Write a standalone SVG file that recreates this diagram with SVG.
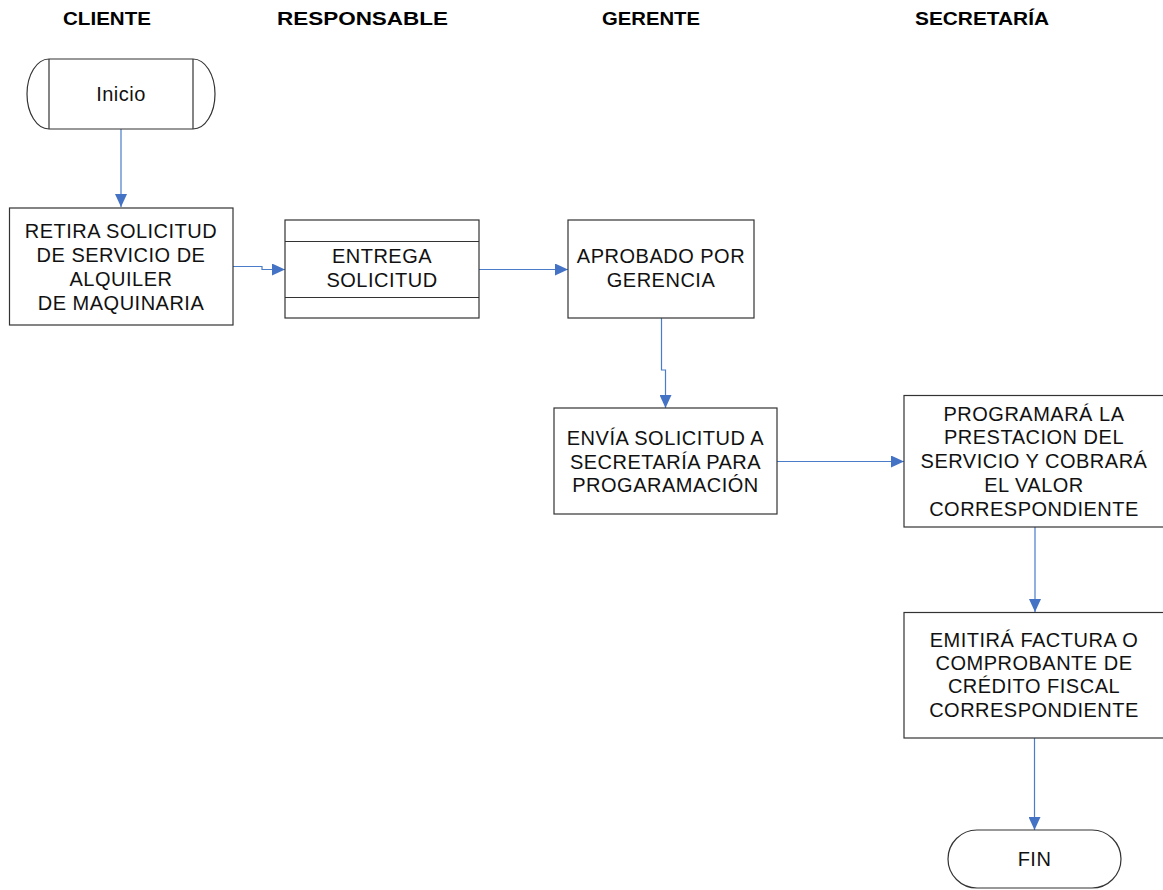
<svg xmlns="http://www.w3.org/2000/svg" width="1163" height="890" viewBox="0 0 1163 890">
  <style>
    .hdr { font-family: "Liberation Sans", Arial, sans-serif; font-weight: bold; font-size: 18px; fill: #000; }
    .box { fill: #fff; stroke: #333; stroke-width: 1.2; }
    .lbl { font-family: "Liberation Sans", Arial, sans-serif; font-size: 20px; letter-spacing: 0.5px; fill: #111; text-anchor: middle; }
    .conn { fill: none; stroke: #4a7cc9; stroke-width: 1.2; }
  </style>
  <defs>
    <marker id="arrow" viewBox="0 0 13 12" refX="13" refY="6" markerWidth="13" markerHeight="12" markerUnits="userSpaceOnUse" orient="auto">
      <path d="M0,0 L13,6 L0,12 Z" fill="#4472c4"/>
    </marker>
  </defs>
  <rect width="1163" height="890" fill="#fff"/>

  <!-- Lane headers -->
  <g id="headers">
    <text class="hdr" x="63" y="25" textLength="88" lengthAdjust="spacingAndGlyphs">CLIENTE</text>
    <text class="hdr" x="277" y="25" textLength="171" lengthAdjust="spacingAndGlyphs">RESPONSABLE</text>
    <text class="hdr" x="602" y="25" textLength="98" lengthAdjust="spacingAndGlyphs">GERENTE</text>
    <text class="hdr" x="915" y="25" textLength="134" lengthAdjust="spacingAndGlyphs">SECRETARÍA</text>
  </g>

  <!-- Connectors -->
  <g id="connectors">
    <path class="conn" d="M121,129 V207" marker-end="url(#arrow)"/>
    <path class="conn" d="M233,266.5 H262 V269.5 H285" marker-end="url(#arrow)"/>
    <path class="conn" d="M479,269.5 H568" marker-end="url(#arrow)"/>
    <path class="conn" d="M661.5,318 V370 H665.5 V408" marker-end="url(#arrow)"/>
    <path class="conn" d="M777,461.5 H904" marker-end="url(#arrow)"/>
    <path class="conn" d="M1035,527 V612" marker-end="url(#arrow)"/>
    <path class="conn" d="M1034.5,738 V830" marker-end="url(#arrow)"/>
  </g>

  <!-- Start terminal -->
  <g id="inicio">
    <path class="box" d="M49,59 H193 A22,35 0 0 1 193,129 H49 A22,35 0 0 1 49,59 Z"/>
    <line class="box" x1="49" y1="59" x2="49" y2="129"/>
    <line class="box" x1="193" y1="59" x2="193" y2="129"/>
    <text class="lbl" x="121" y="101">Inicio</text>
  </g>

  <g id="retira">
    <rect class="box" x="9.5" y="208" width="223.5" height="117"/>
    <text class="lbl" x="121" y="237.5">RETIRA SOLICITUD</text>
    <text class="lbl" x="121" y="261.5">DE SERVICIO DE</text>
    <text class="lbl" x="121" y="285.5">ALQUILER</text>
    <text class="lbl" x="121" y="309.5"> DE MAQUINARIA</text>
  </g>

  <g id="entrega">
    <rect class="box" x="285" y="220" width="194" height="98"/>
    <line class="box" x1="285" y1="241.5" x2="479" y2="241.5"/>
    <line class="box" x1="285" y1="297.5" x2="479" y2="297.5"/>
    <text class="lbl" x="382" y="263">ENTREGA</text>
    <text class="lbl" x="382" y="287">SOLICITUD</text>
  </g>

  <g id="aprobado">
    <rect class="box" x="568" y="220" width="186" height="98"/>
    <text class="lbl" x="661" y="263">APROBADO POR</text>
    <text class="lbl" x="661" y="287">GERENCIA</text>
  </g>

  <g id="envia">
    <rect class="box" x="554" y="408" width="223" height="106"/>
    <text class="lbl" x="665.5" y="445">ENVÍA SOLICITUD A</text>
    <text class="lbl" x="665.5" y="468.5">SECRETARÍA PARA</text>
    <text class="lbl" x="665.5" y="492">PROGARAMACIÓN</text>
  </g>

  <g id="programara">
    <rect class="box" x="904" y="395.5" width="262" height="131.5"/>
    <text class="lbl" x="1034" y="420.5">PROGRAMARÁ LA</text>
    <text class="lbl" x="1034" y="444">PRESTACION DEL</text>
    <text class="lbl" x="1034" y="468">SERVICIO Y COBRARÁ</text>
    <text class="lbl" x="1034" y="491.5">EL VALOR</text>
    <text class="lbl" x="1034" y="515.5">CORRESPONDIENTE</text>
  </g>

  <g id="emitira">
    <rect class="box" x="904" y="612.5" width="262" height="125.5"/>
    <text class="lbl" x="1034" y="646.5">EMITIRÁ FACTURA O</text>
    <text class="lbl" x="1034" y="670">COMPROBANTE DE</text>
    <text class="lbl" x="1034" y="693">CRÉDITO FISCAL</text>
    <text class="lbl" x="1034" y="716.5">CORRESPONDIENTE</text>
  </g>

  <!-- End terminal -->
  <g id="fin">
    <rect class="box" x="948" y="830" width="173" height="58" rx="29" ry="29"/>
    <text class="lbl" x="1034.5" y="866">FIN</text>
  </g>
</svg>
